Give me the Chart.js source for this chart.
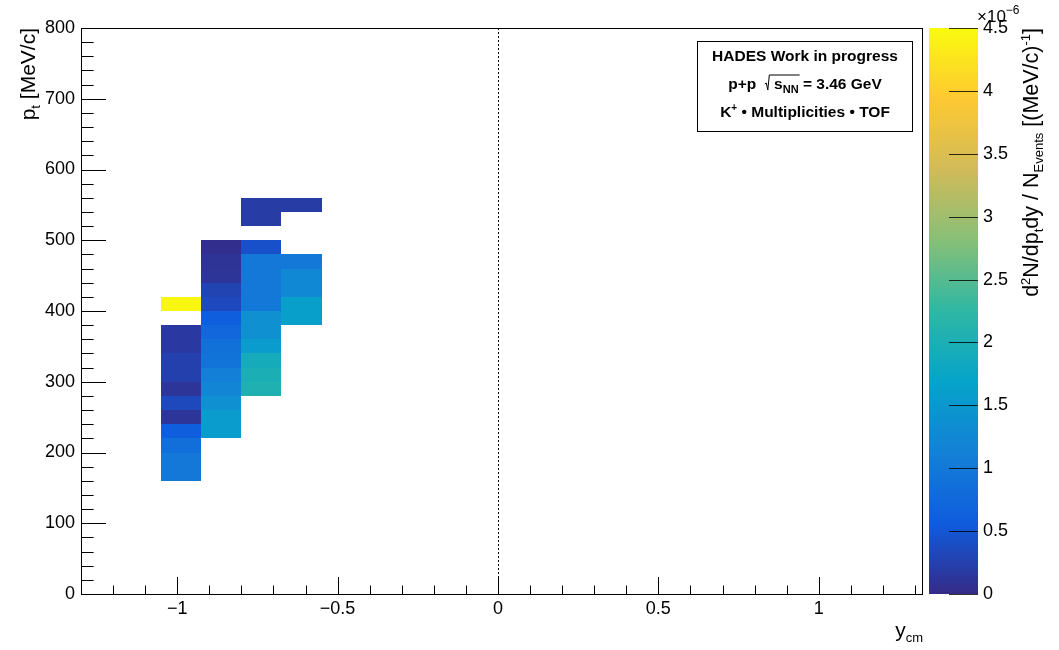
<!DOCTYPE html>
<html><head><meta charset="utf-8">
<script src="https://cdn.jsdelivr.net/npm/chart.js@4.4.1/dist/chart.umd.min.js"></script>
<style>html,body{margin:0;padding:0;background:#fff}canvas{display:block}</style>
</head><body>
<canvas id="c" width="1059" height="650"></canvas>
<script>
// ---- data ----
// rapidity bin centres (y_cm), bin width 0.125
const colCentres = [-0.9875, -0.8625, -0.7375, -0.6125];
// lower edges of the pt bins (MeV/c) per rapidity column, bin width 20
const col1Pt  = [160,180,200,220,240,260,280,300,320,340,360,400];
const col1Val = [1.0,1.0,0.85,0.6,0.12,0.35,0.12,0.25,0.25,0.17,0.17,4.45];
const col2Pt  = [220,240,260,280,300,320,340,360,380,400,420,440,460,480];
const col2Val = [1.56,1.56,1.37,1.19,1.1,0.93,0.87,0.74,0.6,0.34,0.28,0.12,0.1,0.04];
const col3Pt  = [280,300,320,340,360,380,400,420,440,460,480,520,540];
const col3Val = [2.05,2.0,1.9,1.56,1.37,1.37,1.0,1.0,1.0,1.0,0.43,0.2,0.2];
const col4Pt  = [380,400,420,440,460,540];
const col4Val = [1.62,1.62,1.24,1.24,1.0,0.2];
const binWidthY = 0.125, binWidthPt = 20;
// axis ticks / labels
const xTickVals = [-1, -0.5, 0, 0.5, 1];
const yTickVals = [0,100,200,300,400,500,600,700,800];
const zTickVals = [0,0.5,1,1.5,2,2.5,3,3.5,4,4.5];
const xRange = [-1.3, 1.325], yRange = [0, 800], zRange = [0, 4.5];

const cols = [[col1Pt,col1Val],[col2Pt,col2Val],[col3Pt,col3Val],[col4Pt,col4Val]];
const cells = [];
cols.forEach((c,i)=>c[0].forEach((pt,j)=>cells.push({x:colCentres[i], y:pt, v:c[1][j]})));

// ROOT kBird palette
const bStops=[0,.125,.25,.375,.5,.625,.75,.875,1];
const bR=[0.2082,0.0592,0.0780,0.0232,0.1802,0.5301,0.8186,0.9956,0.9764];
const bG=[0.1664,0.3599,0.5041,0.6419,0.7178,0.7492,0.7328,0.7862,0.9832];
const bB=[0.5293,0.8684,0.8385,0.7914,0.6425,0.4662,0.3499,0.1968,0.0539];
function bird(t){
  t=Math.max(0,Math.min(1,t));
  let i=0; while(i<bStops.length-2 && t>bStops[i+1]) i++;
  const f=(t-bStops[i])/(bStops[i+1]-bStops[i]);
  const c=a=>Math.round(255*(a[i]+(a[i+1]-a[i])*f));
  return `rgb(${c(bR)},${c(bG)},${c(bB)})`;
}
const FONT='"Liberation Sans", Arial, Helvetica, sans-serif';
function fmt(v){ const s=String(Math.abs(Math.round(v*1000)/1000)); return v<0?'\u2212'+s:s; }

function drawRich(ctx, segs, x, y, align, rot){
  ctx.save(); ctx.translate(x,y); if(rot) ctx.rotate(-Math.PI/2);
  let w=0;
  segs.forEach(s=>{ctx.font=(s.b?'bold ':'')+s.s+'px '+FONT; s.w=ctx.measureText(s.t).width; w+=s.w;});
  let cx = align==='right'?-w:(align==='center'?-w/2:0);
  ctx.fillStyle='#000'; ctx.textAlign='left'; ctx.textBaseline='alphabetic';
  segs.forEach(s=>{ctx.font=(s.b?'bold ':'')+s.s+'px '+FONT; ctx.fillText(s.t,cx,s.dy||0); s.x=cx; cx+=s.w;});
  ctx.restore();
  return segs;
}

const heat = {
  id:'heat',
  beforeDatasetsDraw(chart){
    const {ctx, scales:{x,y}} = chart;
    ctx.save();
    chart.data.datasets[0].data.forEach(d=>{
      const x0=Math.round(x.getPixelForValue(d.x-binWidthY/2)), x1=Math.round(x.getPixelForValue(d.x+binWidthY/2));
      const y0=Math.round(y.getPixelForValue(d.y)), y1=Math.round(y.getPixelForValue(d.y+binWidthPt));
      ctx.fillStyle=bird((d.v-zRange[0])/(zRange[1]-zRange[0]));
      ctx.fillRect(x0,y1,x1-x0,y0-y1);
    });
    ctx.restore();
  },
  afterDraw(chart){
    const {ctx, chartArea:a, scales:{x,y,z}} = chart;
    ctx.save();
    // dotted line at y_cm = 0
    ctx.strokeStyle='#000'; ctx.lineWidth=1; ctx.setLineDash([2,2]);
    const x0p=Math.round(x.getPixelForValue(0))+0.5;
    ctx.beginPath(); ctx.moveTo(x0p,a.top); ctx.lineTo(x0p,a.bottom); ctx.stroke();
    ctx.setLineDash([]);
    // frame
    ctx.strokeRect(Math.round(a.left)+0.5, Math.round(a.top)+0.5, Math.round(a.right-a.left)-1, Math.round(a.bottom-a.top));
    // x ticks (inside)
    ctx.beginPath();
    for(let k=-13;k<=13;k++){
      const v=k/10, px=Math.round(x.getPixelForValue(v))+0.5;
      const major = Math.abs(v*2-Math.round(v*2))<1e-9;
      ctx.moveTo(px,a.bottom); ctx.lineTo(px,a.bottom-(major?17:8.5));
    }
    for(let v=yRange[0]; v<=yRange[1]; v+=20){
      const py=Math.round(y.getPixelForValue(v))+0.5;
      const major = v%100===0;
      ctx.moveTo(a.left,py); ctx.lineTo(a.left+(major?25:12.6),py);
    }
    ctx.stroke();
    // colour bar
    const bx0=a.right+6, bx1=a.right+55;
    const zt=z.getPixelForValue(zRange[1]), zb=z.getPixelForValue(zRange[0]);
    for(let py=Math.floor(zt); py<Math.ceil(zb); py++){
      const t=(zb-(py+0.5))/(zb-zt);
      ctx.fillStyle=bird(t); ctx.fillRect(bx0,py,bx1-bx0,1);
    }
    ctx.strokeStyle='rgba(0,0,0,0.8)';
    ctx.beginPath();
    zTickVals.forEach(v=>{const py=Math.round(z.getPixelForValue(v))+0.5; ctx.moveTo(bx1-29,py); ctx.lineTo(bx1,py);});
    ctx.stroke();
    // exponent
    drawRich(ctx,[{t:'\u00d710',s:17},{t:'\u22126',s:12,dy:-8}], a.right+54, 22, 'left');
    // axis titles
    drawRich(ctx,[{t:'p',s:21},{t:'t',s:13,dy:5},{t:' [MeV/c]',s:21}], 35, a.top, 'right', true);
    drawRich(ctx,[{t:'y',s:21},{t:'cm',s:13,dy:5}], a.right, 637, 'right');
    drawRich(ctx,[{t:'d',s:21.5},{t:'2',s:13,dy:-8},{t:'N/dp',s:21.5},{t:'t',s:13,dy:5},{t:'dy / N',s:21.5},
                  {t:'Events',s:13,dy:5},{t:' [(MeV/c)',s:21.5},{t:'-1',s:13,dy:-8},{t:']',s:21.5}], 1038, a.top, 'right', true);
    // info box
    ctx.fillStyle='#fff'; ctx.fillRect(697.5,41.5,215,90);
    ctx.strokeStyle='#000'; ctx.lineWidth=1; ctx.strokeRect(697.5,41.5,215,90);
    const cxB=805;
    drawRich(ctx,[{t:'HADES Work in progress',s:15.5,b:1}], cxB, 61, 'center');
    const segs=drawRich(ctx,[{t:'p+p  ',s:15.5,b:1},{t:'\u2009\u2009\u2009',s:15.5,b:1},{t:'s',s:15.5,b:1},{t:'NN',s:11,b:1,dy:4},{t:' = 3.46 GeV',s:15.5,b:1}], cxB, 89, 'center');
    // radical sign
    const rx=cxB+segs[1].x, rEnd=cxB+segs[3].x+segs[3].w, by=89;
    ctx.beginPath(); ctx.lineWidth=1;
    ctx.moveTo(rx,by-5); ctx.lineTo(rx+1.5,by-6); ctx.lineTo(rx+3,by+1); ctx.lineTo(rx+4.5,by-14); ctx.lineTo(rEnd+1,by-14);
    ctx.stroke();
    drawRich(ctx,[{t:'K',s:15.5,b:1},{t:'+',s:10,b:1,dy:-6},{t:' \u2022 Multiplicities \u2022 TOF',s:15.5,b:1}], cxB, 117, 'center');
    ctx.restore();
  }
};

const tickFont={family:FONT,size:18};
new Chart(document.getElementById('c').getContext('2d'),{
  type:'scatter',
  data:{datasets:[{data:cells, pointRadius:0, pointHoverRadius:0}]},
  options:{
    responsive:false, animation:false, events:[],
    layout:{padding:{top:28,left:0,right:0,bottom:0}},
    plugins:{legend:{display:false}, tooltip:{enabled:false}},
    scales:{
      x:{type:'linear', min:xRange[0], max:xRange[1],
         grid:{display:false, drawTicks:false}, border:{display:false},
         afterBuildTicks:s=>{s.ticks=xTickVals.map(v=>({value:v}));},
         afterFit:s=>{s.height=56;},
         ticks:{padding:4, color:'#000', font:tickFont, maxRotation:0, callback:v=>fmt(v)}},
      y:{type:'linear', min:yRange[0], max:yRange[1],
         grid:{display:false, drawTicks:false}, border:{display:false},
         afterBuildTicks:s=>{s.ticks=yTickVals.map(v=>({value:v}));},
         afterFit:s=>{s.width=81;},
         ticks:{padding:6, color:'#000', font:tickFont, callback:v=>fmt(v)}},
      z:{type:'linear', position:'right', min:zRange[0], max:zRange[1],
         grid:{display:false, drawTicks:true, tickLength:54}, border:{display:false},
         afterBuildTicks:s=>{s.ticks=zTickVals.map(v=>({value:v}));},
         afterFit:s=>{s.width=136;},
         ticks:{padding:6, color:'#000', font:tickFont, callback:v=>fmt(v)}}
    }
  },
  plugins:[heat]
});
</script>
</body></html>
